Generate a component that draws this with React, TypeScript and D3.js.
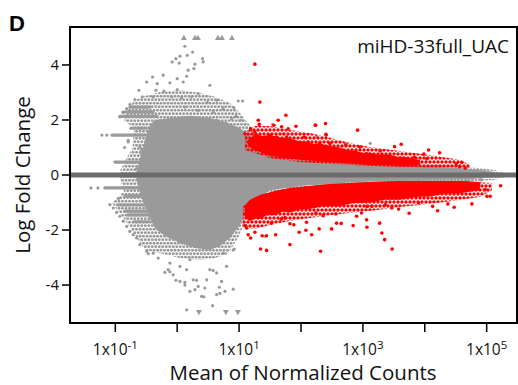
import React from "react";
import * as d3 from "d3";

// all positions: [log10(mean of normalized counts), log fold change]
// dense core of non-significant genes
const coreTop: [number, number][] = [
  [-0.66, 0.11], [-0.61, 0.5], [-0.55, 1.0], [-0.5, 1.45], [-0.44, 1.8], [-0.36, 2.0], [-0.118, 2.07],
  [0.205, 2.15], [0.528, 2.07], [0.771, 1.93], [1.013, 1.71], [1.174, 1.42], [1.336, 1.2],
  [1.498, 0.98], [1.982, 0.73], [2.628, 0.55], [3.275, 0.44], [3.921, 0.33], [4.567, 0.25],
  [4.89, 0.18], [5.132, 0.11],
];
const coreBottom: [number, number][] = [
  [-0.66, -0.11], [-0.61, -0.55], [-0.54, -1.05], [-0.46, -1.5], [-0.36, -1.93], [-0.199, -2.22], [0.044, -2.47],
  [0.286, -2.65], [0.528, -2.73], [0.69, -2.58], [0.851, -2.29], [1.013, -1.82], [1.142, -1.27],
  [1.304, -0.84], [1.498, -0.55], [1.982, -0.4], [2.628, -0.29], [3.275, -0.22], [4.082, -0.18],
  [4.729, -0.15], [5.132, -0.07],
];
// looser outer rim of the grey cloud
const haloTop: [number, number][] = [
  [-0.93, 0.11], [-0.82, 0.6], [-0.72, 1.0], [-0.7, 1.71], [-0.861, 2.0], [-0.795, 2.44], [-0.683, 2.73],
  [-0.522, 2.87], [-0.279, 3.02], [0.044, 3.09], [0.367, 2.98], [0.609, 2.84], [0.851, 2.62],
  [1.045, 2.18], [1.207, 1.71], [1.417, 1.27], [1.821, 0.91], [2.467, 0.65], [3.275, 0.51],
  [4.082, 0.4], [4.729, 0.29], [5.132, 0.18], [5.29, 0.07],
];
const haloBottom: [number, number][] = [
  [-0.93, -0.11], [-0.86, -0.6], [-1.055, -1.02], [-0.845, -1.64], [-0.683, -2.18], [-0.522, -2.73],
  [-0.279, -2.84], [0.044, -3.02], [0.367, -3.09], [0.609, -3.02], [0.819, -2.87], [0.981, -2.29],
  [1.11, -1.64], [1.255, -1.09], [1.498, -0.73], [1.982, -0.51], [2.79, -0.4], [3.598, -0.33],
  [4.405, -0.25], [5.132, -0.18], [5.29, -0.07],
];
// dense bands of significant genes
const upRedTop: [number, number][] = [
  [1.142, 1.27], [1.255, 1.49], [1.38, 1.42], [1.498, 1.46], [1.65, 1.36], [1.821, 1.34], [1.95, 1.24],
  [2.063, 1.22], [2.2, 1.14], [2.305, 1.15], [2.45, 1.05], [2.628, 1.0], [2.75, 0.9], [2.871, 0.89],
  [3.0, 0.8], [3.113, 0.82], [3.25, 0.74], [3.436, 0.74], [3.55, 0.66], [3.678, 0.66], [3.8, 0.58], [3.921, 0.55],
];
const upRedBottom: [number, number][] = [
  [1.142, 1.05], [1.255, 0.91], [1.498, 0.69], [1.982, 0.55], [2.628, 0.44], [3.113, 0.36],
  [3.436, 0.36], [3.678, 0.33], [3.921, 0.36],
];
const upRedHaloTop: [number, number][] = [
  [1.094, 1.56], [1.255, 1.78], [1.498, 1.78], [1.821, 1.64], [2.144, 1.53], [2.467, 1.35],
  [2.79, 1.16], [3.113, 1.02], [3.598, 0.87], [4.082, 0.73], [4.567, 0.55], [4.729, 0.36],
];
const upRedHaloBottom: [number, number][] = [
  [1.094, 0.91], [1.498, 0.62], [1.982, 0.47], [2.79, 0.36], [3.598, 0.29], [4.729, 0.25],
];
const downRedTop: [number, number][] = [
  [1.094, -1.13], [1.174, -0.91], [1.336, -0.73], [1.578, -0.58], [1.821, -0.47], [2.144, -0.4],
  [2.467, -0.33], [2.79, -0.29], [3.113, -0.25], [3.598, -0.22], [4.082, -0.22], [4.567, -0.22],
  [4.89, -0.25],
];
const downRedBottom: [number, number][] = [
  [1.094, -1.56], [1.174, -1.67], [1.26, -1.58], [1.336, -1.6], [1.45, -1.46], [1.578, -1.46], [1.7, -1.34],
  [1.821, -1.36], [2.0, -1.24], [2.144, -1.24], [2.35, -1.14], [2.628, -1.13], [2.85, -1.02], [3.113, -1.0],
  [3.35, -0.9], [3.598, -0.9], [3.85, -0.8], [4.082, -0.78], [4.3, -0.68], [4.567, -0.66], [4.89, -0.55],
];
const downRedHaloTop: [number, number][] = [
  [1.061, -1.15], [1.174, -0.91], [1.336, -0.73], [1.578, -0.58], [1.821, -0.47], [2.144, -0.4],
  [2.467, -0.33], [2.79, -0.29], [3.113, -0.25], [3.598, -0.22], [4.082, -0.22], [4.567, -0.22],
  [5.084, -0.29],
];
const downRedHaloBottom: [number, number][] = [
  [1.061, -1.93], [1.255, -1.96], [1.498, -1.82], [1.821, -1.67], [2.144, -1.56], [2.628, -1.42],
  [3.113, -1.31], [3.598, -1.16], [4.082, -1.05], [4.567, -0.91], [4.89, -0.8], [5.084, -0.55],
];
// horizontal runs of low-count genes: [fromLog10, toLog10, lfc]
const greyRuns: [number, number, number][] = [
  [-1.055, -0.522, 1.45], [-1.006, -0.473, 0.47], [-0.764, -0.441, 2.47], [-0.877, -0.393, 2.29],
  [-0.926, -0.328, 2.13], [-1.168, -0.473, -0.47], [-0.958, -0.489, -1.09], [-0.845, -0.441, -1.31],
  [-0.796, -0.409, -1.45], [-0.845, -0.522, -0.77], [-0.75, -0.5, 1.7], [-0.7, -0.45, -1.7],
];
const greyPoints: [number, number][] = [
  [0.124, 4.68], [0.249, 4.47], [0.044, 4.32], [0.162, 4.35], [-0.021, 4.23], [0.41, 4.23],
  [-0.081, 4.11], [0.032, 4.07], [0.286, 4.03], [0.42, 4.11], [0.178, 3.81], [0.27, 3.87],
  [-0.226, 3.63], [-0.397, 3.56], [0, 3.5], [0.152, 3.59], [-0.494, 3.38], [-0.323, 3.32],
  [-0.118, 3.35], [0.097, 3.38], [0.528, 3.26], [-0.619, 3.08], [-0.344, 3.08], [-0.215, 3.05],
  [0, 3.1], [0.339, 2.96], [-0.565, 2.84], [-0.388, 2.84], [-0.09, 2.84], [0.071, 2.81],
  [0.233, 2.84], [0.485, 2.65], [0.637, 2.72], [-0.683, 2.74], [-0.764, 2.57], [-0.817, 2.41],
  [-0.872, 2.27], [-0.926, 2.11], [0.124, 2.47], [0.339, 2.35], [0.582, 2.29], [0.637, 1.99],
  [-0.792, 1.26], [-0.603, 1.68], [-0.575, 0.9], [-0.575, 0.77], [-0.522, 0.59],
  [-0.792, 1.2], [-0.603, 1.02], [-0.522, 0.77], [-0.656, 0.23], [-0.575, 0.41], [-0.441, 0.17],
  [0.985, 2.69], [1.057, 2.69], [0.743, 2.41], [0.916, 2.45], [0.948, 2.13], [1.024, 1.99],
  [0.879, 2.05], [0.798, 1.87], [1.541, 1.84], [2.252, 1.41], [1.712, 1.5], [3.118, 1.15],
  [3.754, 0.43], [3.835, 0.3], [4.103, 0.12], [4.212, -0.28], [4.32, -0.3], [4.588, -0.28],
  [4.75, -0.36], [4.911, -0.18], [3.9, -0.17], [4.68, -0.23], [4.842, -0.29], [4.895, -0.17],
  [0.69, -2.47], [0.743, -2.84], [0.798, -3.32], [0.717, -3.87], [0.771, -4.23], [0.905, -4.15],
  [0.921, -2.69], [0.905, -2.73], [1.417, -2.23],
  [-1.087, -1.08], [-1.034, -1.2], [-0.979, -1.36], [-0.926, -1.5], [-0.872, -1.68], [-0.817, -1.87],
  [-0.764, -2.05], [-0.711, -2.17], [-0.656, -2.29], [-0.603, -2.53], [-0.494, -2.77], [-0.468, -2.86],
  [-0.307, -3.02], [-0.199, -3.54], [-0.145, -3.44], [-0.065, -3.63], [-0.021, -3.83], [0.044, -3.87],
  [0.124, -3.9], [0.205, -4.23], [0.286, -4.17], [0.313, -3.83], [0.447, -4.11], [0.475, -3.81],
  [0.528, -3.44], [0.582, -3.47], [0.637, -3.56], [0.637, -4.35], [0.152, -4.9], [0.572, -4.75],
  [-0.118, -3.2], [0.044, -3.32], [0.152, -3.44], [0.205, -3.08], [-0.388, -2.84], [0.394, -4.41],
  [0.339, -4.05], [0.258, -3.81], [0.679, -4.08], [0.69, -4.3], [0.431, -4.43], [0.124, -4.0],
  [-0.118, -3.52],
  [-1.216, 1.45], [-1.136, 1.45], [-1.394, -0.47], [-1.281, -0.47],
  [-0.85, 1.0], [-0.95, -0.85],
];
const redPoints: [number, number][] = [
  [1.255, 4.03], [1.336, 2.65], [1.309, 1.99], [1.325, 1.84], [1.186, 1.68], [1.094, 1.5],
  [1.255, 1.56], [1.632, 1.99], [1.756, 2.17], [1.562, 1.81], [1.687, 1.75], [1.793, 1.68],
  [1.918, 1.77], [1.498, 1.44], [1.606, 1.38], [1.767, 1.38], [2.052, 1.38], [2.116, 1.2],
  [2.236, 1.81], [2.397, 1.87], [2.402, 1.48], [2.305, 1.14], [2.467, 1.14], [2.725, 1.1],
  [2.914, 1.63], [2.548, 0.84], [2.952, 1.02], [3.06, 0.77], [3.619, 1.12], [4.061, 0.91],
  [4.239, 0.81], [3.985, 0.76], [3.835, 0.64], [4.507, 0.4], [4.599, 0.46], [4.562, 0.3],
  [3.512, 1.03], [2.407, 1.45], [2.229, 1.82], [4.034, 0.59], [4.653, 0.25], [3.872, 0.41],
  [3.279, 0.87], [3.399, 0.59], [3.603, 0.47], [3.764, 0.41], [3.307, 0.72],
  [5.225, -0.39], [5.003, -0.77], [5.057, -0.77], [4.976, -0.53], [4.869, -0.35], [4.761, -1.05],
  [4.475, -1.17], [4.373, -1.05], [4.207, -1.3], [4.126, -1.14], [3.9, -1.02], [3.748, -1.39],
  [3.577, -1.24], [3.468, -1.2], [3.36, -1.08], [3.145, -1.14], [3.065, -1.14], [3.27, -1.75],
  [3.307, -2.11], [3.351, -2.35], [3.473, -2.69], [3.065, -1.9], [1.821, -2.53], [2.317, -2.77],
  [1.347, -2.69], [1.444, -2.74], [1.147, -2.17], [1.186, -2.29], [1.373, -2.21], [1.444, -2.21],
  [1.59, -2.17], [1.255, -2.08], [1.971, -2.08], [2.079, -2.01], [2.171, -2.17], [2.294, -1.96],
  [2.494, -1.96], [2.575, -1.75], [2.843, -1.84], [3.06, -1.63], [1.821, -1.77], [1.885, -1.81],
  [2.09, -1.72], [2.241, -1.38], [2.359, -1.48], [2.564, -1.42], [1.74, -1.56], [1.525, -1.75],
  [1.094, -1.84], [1.121, -1.93], [2.898, -1.5], [2.979, -1.38], [2.649, -1.76], [1.68, -1.61],
];
// genes beyond the axis, drawn as triangles at +/-5
const clippedUp: number[] = [0.108, 0.286, 0.334, 0.658, 0.722, 0.884];
const clippedDown: number[] = [0.351, 0.787, 0.981];
const yTicks: number[] = [-4, -2, 0, 2, 4];
const xTickExps: number[] = [-1, 0, 1, 2, 3, 4, 5];
const xLabelExps: number[] = [-1, 1, 3, 5];

const W = 518, H = 385;
const L = 70, R = 517, T = 27, B = 323;
const GREY = "#9a9a9a";
const RED = "#ff0000";
const FONT = "'Open Sans', 'Noto Sans', sans-serif";

export default function App() {
  const x = d3.scaleLog().domain([Math.pow(10, -1.732), Math.pow(10, 5.49)]).range([L, R]);
  const y = d3.scaleLinear().domain([-5.38, 5.38]).range([B, T]);
  const px = (l: number) => x(Math.pow(10, l));
  const line = d3.line<[number, number]>().x((d) => px(d[0])).y((d) => y(d[1]));
  const band = (top: [number, number][], bottom: [number, number][]) =>
    (line([...top, ...bottom.slice().reverse()]) || "") + "Z";

  return (
    <svg width={W} height={H} style={{ position: "absolute", left: 0, top: 0, background: "#fff" }}>
      <defs>
        <clipPath id="plotclip">
          <rect x={L} y={T} width={R - L} height={B - T} />
        </clipPath>
        <pattern id="greyDots" width={7} height={7} patternUnits="userSpaceOnUse">
          <circle cx={1.75} cy={1.75} r={1.45} fill={GREY} />
          <circle cx={5.25} cy={1.75} r={1.45} fill={GREY} />
          <circle cx={0} cy={5.25} r={1.45} fill={GREY} />
          <circle cx={3.5} cy={5.25} r={1.45} fill={GREY} />
          <circle cx={7} cy={5.25} r={1.45} fill={GREY} />
        </pattern>
        <pattern id="redDots" width={8} height={8} patternUnits="userSpaceOnUse">
          <circle cx={2} cy={2} r={1.7} fill={RED} />
          <circle cx={6} cy={2} r={1.7} fill={RED} />
          <circle cx={0} cy={6} r={1.7} fill={RED} />
          <circle cx={4} cy={6} r={1.7} fill={RED} />
          <circle cx={8} cy={6} r={1.7} fill={RED} />
        </pattern>
      </defs>
      <g clipPath="url(#plotclip)">
        <path d={band(haloTop, haloBottom)} fill="url(#greyDots)" />
        <path d={band(coreTop, coreBottom)} fill={GREY} />
        {greyRuns.map((r, i) => (
          <line key={"r" + i} x1={px(r[0])} x2={px(r[1])} y1={y(r[2])} y2={y(r[2])}
            stroke={GREY} strokeWidth={3.2} strokeLinecap="round" />
        ))}
        {greyPoints.map((p, i) => (
          <circle key={"g" + i} cx={px(p[0])} cy={y(p[1])} r={1.6} fill={GREY} />
        ))}
        <path d={band(upRedHaloTop, upRedHaloBottom)} fill="url(#redDots)" />
        <path d={band(downRedHaloTop, downRedHaloBottom)} fill="url(#redDots)" />
        <path d={band(upRedTop, upRedBottom)} fill={RED} />
        <path d={band(downRedTop, downRedBottom)} fill={RED} />
        {redPoints.map((p, i) => (
          <circle key={"p" + i} cx={px(p[0])} cy={y(p[1])} r={1.8} fill={RED} />
        ))}
        {clippedUp.map((l, i) => {
          const cx = px(l), cy = y(5);
          return <path key={"u" + i} d={`M${cx - 3},${cy + 2.5}L${cx + 3},${cy + 2.5}L${cx},${cy - 2.8}Z`} fill={GREY} />;
        })}
        {clippedDown.map((l, i) => {
          const cx = px(l), cy = y(-5);
          return <path key={"d" + i} d={`M${cx - 3},${cy - 2.5}L${cx + 3},${cy - 2.5}L${cx},${cy + 2.8}Z`} fill={GREY} />;
        })}
        <line x1={L} x2={R} y1={y(0)} y2={y(0)} stroke="#6c6c6c" strokeWidth={5} />
      </g>
      <rect x={L} y={T} width={R - L} height={B - T} fill="none" stroke="#000" strokeWidth={2} />
      {yTicks.map((t) => (
        <g key={"yt" + t}>
          <line x1={L - 8} x2={L} y1={y(t)} y2={y(t)} stroke="#000" strokeWidth={1.5} />
          <text x={L - 11} y={y(t)} dy="0.35em" textAnchor="end" fontSize={15} fontFamily={FONT} fill="#111">
            {t}
          </text>
        </g>
      ))}
      {xTickExps.map((e) => (
        <line key={"xt" + e} x1={px(e)} x2={px(e)} y1={B} y2={B + 9} stroke="#000" strokeWidth={1.5} />
      ))}
      {xLabelExps.map((e) => (
        <text key={"xl" + e} x={px(e)} y={355} textAnchor="middle" fontSize={15.5} fontFamily={FONT} fill="#111">
          1x10<tspan dy={-6} fontSize={11.5}>{e}</tspan>
        </text>
      ))}
      <text x={303} y={380} textAnchor="middle" fontSize={20.5} fontFamily={FONT} fill="#111">
        Mean of Normalized Counts
      </text>
      <text transform={`translate(30,${y(0)}) rotate(-90)`} textAnchor="middle" fontSize={20.5} fontFamily={FONT} fill="#111">
        Log Fold Change
      </text>
      <text x={509} y={53} textAnchor="end" fontSize={19} fontFamily={FONT} fill="#111">
        miHD-33full_UAC
      </text>
      <text x={9} y={31} fontSize={22} fontWeight="bold" fontFamily="Arial, 'Liberation Sans', sans-serif" fill="#000">
        D
      </text>
    </svg>
  );
}
